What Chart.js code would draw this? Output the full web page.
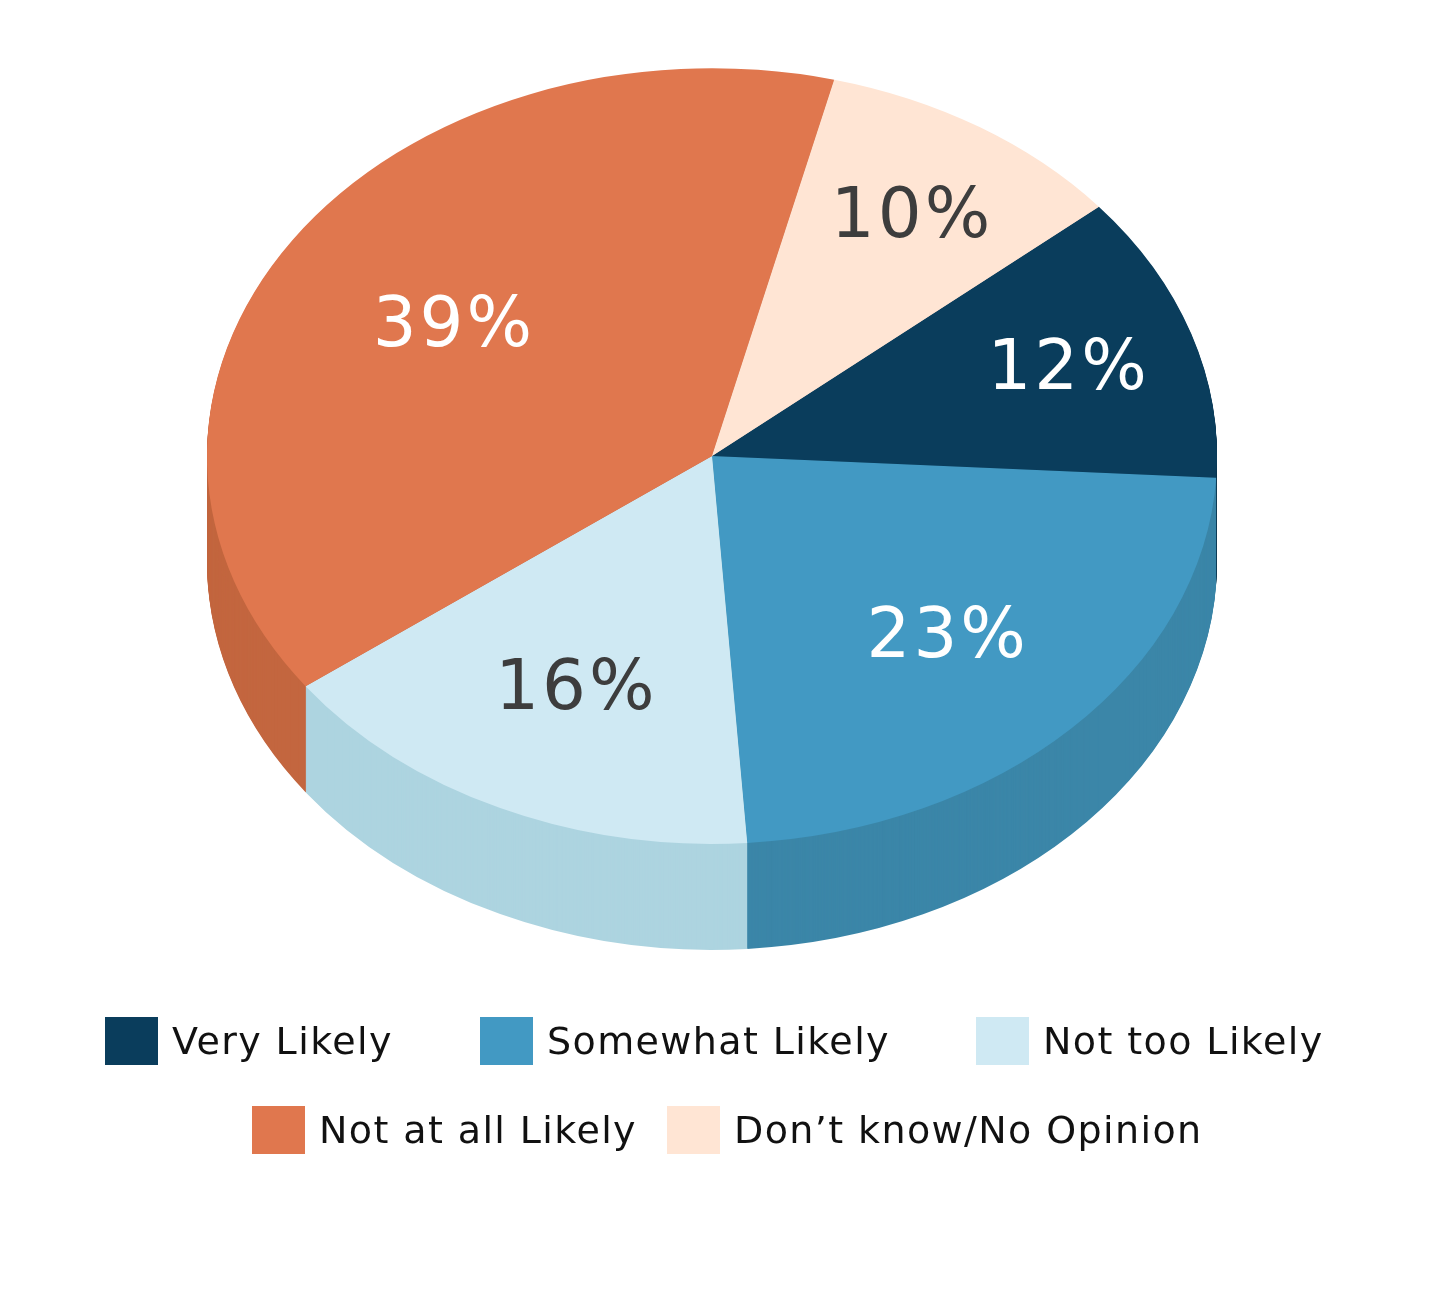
<!DOCTYPE html>
<html>
<head>
<meta charset="utf-8">
<script src="https://cdn.jsdelivr.net/npm/chart.js@4.4.1/dist/chart.umd.min.js"></script>
<style>
html,body{margin:0;padding:0;background:#ffffff;}
#wrap{position:relative;width:1440px;height:1290px;overflow:hidden;}
#c{position:absolute;left:0;top:0;}
.lg{position:absolute;display:flex;align-items:center;height:48px;font-family:"DejaVu Sans",sans-serif;font-size:38px;letter-spacing:1.4px;color:#111111;white-space:nowrap;}
.lg i{display:inline-block;width:53px;height:48px;margin-right:14px;flex:none;}
</style>
</head>
<body>
<div id="wrap">
<canvas id="c" width="1440" height="1290"></canvas>
</div>
<script>
// ---- data ----
const categories = ['Very Likely', 'Somewhat Likely', 'Not too Likely', 'Not at all Likely', 'Don\u2019t know/No Opinion'];
const values = [12, 23, 16, 39, 10];
const valueLabels = ['12%', '23%', '16%', '39%', '10%'];

// ---- styles ----
const topColors = ['#0a3d5c', '#4299c3', '#cfe9f3', '#e0774e', '#ffe5d4'];
const sideColors = ['#082f48', '#3b86a8', '#add4e0', '#c3663f', '#e8cdbc'];
const labelColors = ['#ffffff', '#ffffff', '#3d3d3d', '#ffffff', '#3d3d3d'];
const legendSlots = [[105, 1017], [480, 1017], [976, 1017], [252, 1106], [667, 1106]];

const K = 0.768;      // vertical squash of the pie top
const DEPTH = 106;    // thickness of the pie
const TOPY = 456;     // centre of the top ellipse

function applyEllipse(ctx, arc) {
  ctx.translate(arc.x, TOPY);
  ctx.scale(1, K);
  ctx.translate(-arc.x, -arc.y);
}

const pie3d = {
  id: 'pie3d',
  beforeDatasetsDraw(chart) {
    const ctx = chart.ctx;
    const arcs = chart.getDatasetMeta(0).data;
    for (let d = DEPTH; d >= 1; d--) {
      ctx.save();
      ctx.translate(0, d);
      applyEllipse(ctx, arcs[0]);
      arcs.forEach((a, i) => {
        const o = a.options;
        a.options = Object.assign({}, o, { backgroundColor: sideColors[i], borderWidth: 0 });
        a.draw(ctx);
        a.options = o;
      });
      ctx.restore();
    }
    ctx.save();
    applyEllipse(ctx, arcs[0]);
  },
  afterDatasetsDraw(chart) {
    const ctx = chart.ctx;
    ctx.restore();
    const arcs = chart.getDatasetMeta(0).data;
    ctx.save();
    ctx.font = '69px "DejaVu Sans", sans-serif';
    ctx.letterSpacing = '3px';
    ctx.textAlign = 'center';
    ctx.textBaseline = 'middle';
    arcs.forEach((a, i) => {
      const mid = (a.startAngle + a.endAngle) / 2;
      const frac = values[i] < 15 ? 0.74 : (values[i] > 30 ? 0.62 : 0.65);
      const r = a.outerRadius * frac;
      const px = a.x + Math.cos(mid) * r;
      const py = TOPY + Math.sin(mid) * r * K;
      ctx.fillStyle = labelColors[i];
      ctx.fillText(valueLabels[i], px + 2, py + 6);
    });
    ctx.restore();
  }
};

new Chart(document.getElementById('c'), {
  type: 'pie',
  data: {
    labels: categories,
    datasets: [{
      data: values,
      backgroundColor: topColors,
      borderWidth: 0,
      hoverOffset: 0
    }]
  },
  options: {
    responsive: false,
    animation: false,
    devicePixelRatio: 1,
    rotation: 50,
    layout: { padding: { left: 207, right: 223, top: 0, bottom: 280 } },
    plugins: {
      legend: { display: false },
      tooltip: { enabled: false }
    },
    events: []
  },
  plugins: [pie3d]
});

// ---- HTML legend built from the data ----
const wrap = document.getElementById('wrap');
categories.forEach((name, i) => {
  const d = document.createElement('div');
  d.className = 'lg';
  d.style.left = legendSlots[i][0] + 'px';
  d.style.top = legendSlots[i][1] + 'px';
  const sw = document.createElement('i');
  sw.style.background = topColors[i];
  d.appendChild(sw);
  d.appendChild(document.createTextNode(name));
  wrap.appendChild(d);
});
</script>
</body>
</html>
